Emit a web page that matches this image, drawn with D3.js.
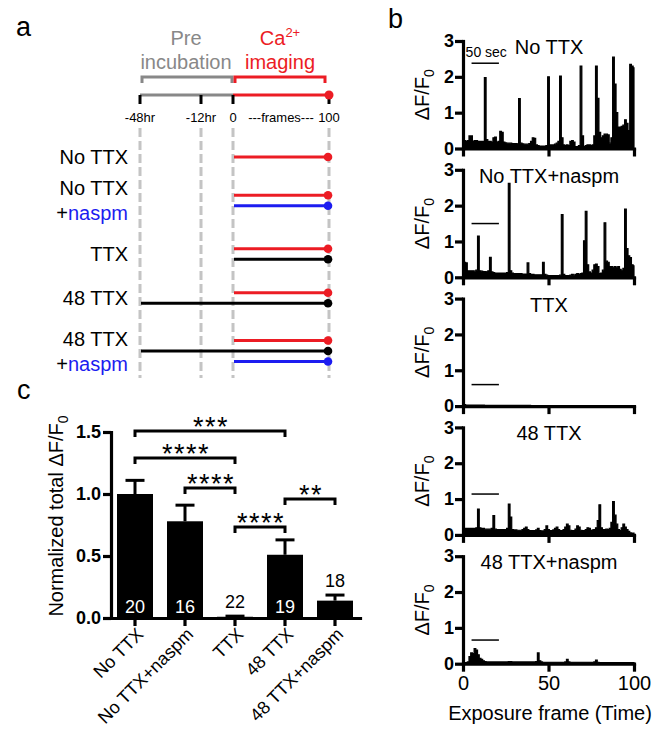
<!DOCTYPE html>
<html><head><meta charset="utf-8">
<script src="https://cdn.jsdelivr.net/npm/d3@7"></script>
<style>
body{margin:0;background:#fff}
svg{display:block}
text{font-family:"Liberation Sans",Arial,Helvetica,sans-serif}
</style>
</head><body>
<svg id="fig" width="669" height="743"></svg>
<script>
// ---------------- DATA ----------------
// Panel a: timeline
const timeTicks = [-48, -12, 0, 100];
const timeTickLabels = ["-48hr", "-12hr", "0", "100"];
const rowLabels = [["No TTX"], ["No TTX", "+naspm"], ["TTX"], ["48 TTX"], ["48 TTX", "+naspm"]];
const rowLines = [
  [["imaging", 0]],
  [["imaging", 0], ["naspm", 0]],
  [["imaging", 0], ["ttx", 0]],
  [["imaging", 0], ["ttx", -48]],
  [["imaging", 0], ["ttx", -48], ["naspm", 0]]
];

// Panel b: traces (ΔF/F0 per exposure frame 0..100)
const traceTitles = ["No TTX", "No TTX+naspm", "TTX", "48 TTX", "48 TTX+naspm"];
const traceNoTTX = [
 0.20,0.22,0.20,0.22,0.35,0.35,0.20,0.22,0.22,0.20,
 0.20,0.20,0.20,1.98,0.25,0.20,0.20,0.18,0.30,0.32,
 0.18,0.20,0.48,0.45,0.18,0.16,0.15,0.15,0.15,0.14,
 0.14,0.14,0.13,1.39,0.15,0.13,0.12,0.12,0.12,0.14,
 0.20,0.30,0.28,0.10,0.08,0.07,0.07,0.07,0.07,0.08,
 2.00,0.10,0.10,0.10,0.12,0.15,0.20,2.02,0.30,0.10,
 0.08,0.10,0.08,0.20,0.22,0.18,0.05,0.05,0.08,2.30,
 0.35,0.05,0.08,0.10,0.10,0.08,0.10,0.35,2.30,1.40,
 0.45,0.30,0.35,0.40,0.40,0.38,0.15,0.30,2.55,1.80,
 1.00,0.60,0.60,0.62,0.65,0.80,0.70,0.50,2.35,2.30,
 2.25];
const traceNoTTXNaspm = [
 0.42,0.42,0.40,0.18,0.18,0.18,0.18,0.17,0.20,1.15,
 0.18,0.17,0.16,0.16,0.15,0.18,0.56,0.15,0.13,0.12,
 0.12,0.12,0.12,0.12,0.12,0.12,0.13,2.62,0.18,0.12,
 0.10,0.10,0.10,0.10,0.10,0.09,0.09,0.09,0.40,0.10,
 0.08,0.08,0.07,0.07,0.07,0.07,0.07,0.42,0.08,0.06,
 0.05,0.05,0.05,0.05,0.05,0.05,0.05,0.06,1.75,0.08,
 0.05,0.05,0.05,0.06,0.08,0.06,0.08,0.10,0.08,0.10,
 0.12,1.02,1.84,0.35,0.15,0.12,0.20,0.35,0.37,0.30,
 0.10,0.12,0.20,1.52,0.45,0.42,0.30,0.30,0.28,0.30,
 0.28,0.30,0.22,0.18,0.25,1.90,0.80,0.60,0.55,0.35,
 0.32];
const traceTTX = [
 0.04,0.04,0.03,0.03,0.03,0.03,0.03,0.03,0.03,0.03,
 0.03,0.03,0.03,0.02,0.02,0.02,0.02,0.02,0.02,0.02,
 0.02,0.02,0.02,0.02,0.02,0.02,0.02,0.02,0.02,0.02,
 0.02,0.02,0.02,0.02,0.02,0.02,0.02,0.02,0.02,0.02,
 0.01,0.01,0.01,0.01,0.01,0.01,0.01,0.01,0.01,0.01,
 0.01,0.01,0.01,0.01,0.01,0.01,0.01,0.01,0.01,0.01,
 0.01,0.01,0.01,0.01,0.01,0.01,0.01,0.01,0.01,0.01,
 0.01,0.01,0.01,0.01,0.01,0.01,0.01,0.01,0.01,0.01,
 0.01,0.01,0.01,0.01,0.01,0.01,0.01,0.01,0.01,0.01,
 0.01,0.01,0.01,0.01,0.01,0.01,0.01,0.01,0.01,0.01,
 0.01];
const trace48TTX = [
 0.20,0.18,0.18,0.18,0.18,0.18,0.18,0.18,0.20,0.72,
 0.20,0.18,0.18,0.16,0.16,0.16,0.16,0.18,0.54,0.16,
 0.15,0.15,0.15,0.15,0.15,0.15,0.18,0.86,0.50,0.15,
 0.14,0.14,0.13,0.13,0.13,0.15,0.18,0.22,0.15,0.12,
 0.12,0.12,0.12,0.14,0.18,0.12,0.11,0.11,0.15,0.25,
 0.15,0.12,0.12,0.14,0.18,0.22,0.15,0.12,0.12,0.15,
 0.22,0.30,0.25,0.13,0.12,0.12,0.16,0.25,0.22,0.13,
 0.12,0.12,0.15,0.20,0.18,0.12,0.14,0.15,0.20,0.40,
 0.84,0.20,0.15,0.15,0.16,0.15,0.18,0.35,0.93,0.55,
 0.30,0.15,0.12,0.20,0.30,0.22,0.15,0.10,0.06,0.05,
 0.05];
const trace48TTXNaspm = [
 0.02,0.02,0.03,0.05,0.20,0.30,0.28,0.42,0.38,0.25,
 0.15,0.12,0.08,0.06,0.05,0.05,0.05,0.05,0.05,0.05,
 0.05,0.05,0.05,0.05,0.05,0.05,0.05,0.06,0.06,0.05,
 0.05,0.05,0.05,0.05,0.05,0.05,0.05,0.05,0.05,0.05,
 0.05,0.05,0.05,0.06,0.30,0.08,0.05,0.04,0.04,0.04,
 0.04,0.04,0.04,0.04,0.04,0.04,0.04,0.04,0.04,0.04,
 0.05,0.12,0.05,0.04,0.04,0.04,0.04,0.04,0.04,0.04,
 0.04,0.04,0.04,0.04,0.04,0.04,0.04,0.05,0.10,0.04,
 0.03,0.03,0.03,0.03,0.03,0.03,0.03,0.03,0.03,0.03,
 0.03,0.03,0.03,0.03,0.03,0.03,0.03,0.03,0.03,0.03,
 0.03];
const traces = [traceNoTTX, traceNoTTXNaspm, traceTTX, trace48TTX, trace48TTXNaspm];
const traceYTicks = [0, 1, 2, 3];
const traceXTicks = [0, 50, 100];
const scaleBarFrames = [5, 21];
const scaleBarLevels = [2.38, 1.5, 0.6, 1.14, 0.66];

// Panel c: bars
const barCategories = ["No TTX", "No TTX+naspm", "TTX", "48 TTX", "48 TTX+naspm"];
const barMeans = [1.00, 0.78, 0.01, 0.51, 0.14];
const barErrors = [0.11, 0.13, 0.005, 0.12, 0.045];
const barCounts = ["20", "16", "22", "19", "18"];
const barYTicks = [0, 0.5, 1.0, 1.5];
const sigFrom = [0, 0, 1, 2, 3];
const sigTo = [3, 2, 2, 3, 4];
const sigLevel = [1.508, 1.29, 1.048, 0.734, 0.96];
const sigText = ["***", "****", "****", "****", "**"];

// ---------------- DRAW ----------------
const svg = d3.select("#fig");
const RED = "#ec1c24", BLUE = "#1c1cf0", GRAY = "#888888", DASH = "#c4c4c4";

// panel letters
svg.append("text").attr("x", 16).attr("y", 36).attr("font-size", 27).text("a");
svg.append("text").attr("x", 388).attr("y", 28).attr("font-size", 27).text("b");
svg.append("text").attr("x", 17).attr("y", 399).attr("font-size", 27).text("c");

// ===== Panel a =====
const tl = d3.scaleLinear().domain(timeTicks).range([140, 201, 233, 329]);
const gA = svg.append("g");
gA.append("text").attr("x", 186).attr("y", 45).attr("text-anchor", "middle")
  .attr("font-size", 20).attr("fill", GRAY).text("Pre");
gA.append("text").attr("x", 186).attr("y", 69).attr("text-anchor", "middle")
  .attr("font-size", 20).attr("fill", GRAY).text("incubation");
const ca = gA.append("text").attr("x", 280).attr("y", 45).attr("text-anchor", "middle")
  .attr("font-size", 20).attr("fill", RED);
ca.append("tspan").text("Ca");
ca.append("tspan").attr("dy", -8).attr("font-size", 13).text("2+");
gA.append("text").attr("x", 280).attr("y", 69).attr("text-anchor", "middle")
  .attr("font-size", 20).attr("fill", RED).text("imaging");
gA.append("path").attr("d", `M${tl(-48)+2},83V77H${tl(0)-1}V83`)
  .attr("fill", "none").attr("stroke", GRAY).attr("stroke-width", 3);
gA.append("path").attr("d", `M${tl(0)+2},83V77H${tl(100)-4}V83`)
  .attr("fill", "none").attr("stroke", RED).attr("stroke-width", 3);
gA.selectAll("line.guide").data(timeTicks).join("line").attr("class", "guide")
  .attr("x1", d => tl(d)).attr("x2", d => tl(d)).attr("y1", 128).attr("y2", 378)
  .attr("stroke", DASH).attr("stroke-width", 3).attr("stroke-dasharray", "9,4");
gA.append("line").attr("x1", tl(-48)).attr("x2", tl(0)).attr("y1", 95).attr("y2", 95)
  .attr("stroke", GRAY).attr("stroke-width", 3);
gA.append("line").attr("x1", tl(0)).attr("x2", tl(100)).attr("y1", 95).attr("y2", 95)
  .attr("stroke", RED).attr("stroke-width", 3);
gA.selectAll("line.tk").data(timeTicks).join("line").attr("class", "tk")
  .attr("x1", d => tl(d)).attr("x2", d => tl(d)).attr("y1", 95).attr("y2", 104)
  .attr("stroke", "#000").attr("stroke-width", 3);
gA.append("circle").attr("cx", tl(100)).attr("cy", 95).attr("r", 4.5).attr("fill", RED);
gA.selectAll("text.tkl").data(timeTicks).join("text").attr("class", "tkl")
  .attr("x", d => tl(d)).attr("y", 122).attr("text-anchor", "middle").attr("font-size", 13)
  .text((d, i) => timeTickLabels[i]);
gA.append("text").attr("x", tl(50)).attr("y", 122).attr("text-anchor", "middle")
  .attr("font-size", 13).text("---frames---");

const rowCenters = [157, 200.5, 254, 298, 351];
const lineColor = {imaging: RED, naspm: BLUE, ttx: "#000"};
rowLabels.forEach((lab, r) => {
  const c = rowCenters[r];
  lab.forEach((t, j) => {
    const ty = lab.length === 1 ? c : c + (j === 0 ? -12.5 : 12.5);
    const tx = gA.append("text").attr("x", 128).attr("y", ty).attr("dy", "0.35em")
      .attr("text-anchor", "end").attr("font-size", 20);
    if (t.startsWith("+")) {
      tx.append("tspan").text("+");
      tx.append("tspan").attr("fill", BLUE).text(t.slice(1));
    } else tx.text(t);
  });
  const ls = rowLines[r];
  ls.forEach((l, j) => {
    const ly = c + (j - (ls.length - 1) / 2) * 10.5;
    gA.append("line").attr("x1", tl(l[1]) + 1).attr("x2", tl(100) - 1)
      .attr("y1", ly).attr("y2", ly).attr("stroke", lineColor[l[0]]).attr("stroke-width", 3);
    gA.append("circle").attr("cx", tl(100) - 1).attr("cy", ly).attr("r", 4.3)
      .attr("fill", lineColor[l[0]]);
  });
});

// ===== Panel b =====
const xb = d3.scaleLinear().domain([0, 100]).range([463, 634]);
traces.forEach((tr, k) => {
  const top = 41 + k * 128.8, bot = top + 107.5;
  const yb = d3.scaleLinear().domain([0, 3]).range([bot, top]);
  const g = svg.append("g");
  const area = d3.area().x((d, i) => xb(i)).y0(yb(0)).y1(d => yb(d)).curve(d3.curveStep);
  g.append("path").datum(tr).attr("d", area).attr("fill", "#000")
    .attr("stroke", "#000").attr("stroke-width", 1.2).attr("stroke-linejoin", "miter");
  const ya = g.append("g").attr("transform", `translate(${xb(0)},0)`)
    .call(d3.axisLeft(yb).tickValues(traceYTicks).tickFormat(d3.format("d")).tickSize(8).tickSizeOuter(0));
  const xa = g.append("g").attr("transform", `translate(0,${yb(0)})`)
    .call(d3.axisBottom(xb).tickValues(traceXTicks).tickSize(8).tickSizeOuter(0));
  [ya, xa].forEach(a => {
    a.select(".domain").attr("stroke-width", 3.2).attr("stroke-linecap", "square");
    a.selectAll(".tick line").attr("stroke-width", 3.2);
  });
  ya.selectAll(".tick text").attr("font-size", 18).attr("font-weight", "bold")
    .attr("font-family", '"Liberation Sans",Arial,sans-serif').attr("x", -9);
  xa.selectAll(".tick text").attr("font-size", 20)
    .attr("font-family", '"Liberation Sans",Arial,sans-serif').attr("y", 12)
    .style("display", k === traces.length - 1 ? null : "none");
  const yl = g.append("text").attr("transform", `translate(429,${(top + bot) / 2}) rotate(-90)`)
    .attr("text-anchor", "middle").attr("font-size", 20);
  yl.append("tspan").text("ΔF/F");
  yl.append("tspan").attr("font-size", 14).attr("dy", 5).text("0");
  g.append("text").attr("x", 549).attr("y", top + 13).attr("text-anchor", "middle")
    .attr("font-size", 20).text(traceTitles[k]);
  g.append("line").attr("x1", xb(scaleBarFrames[0])).attr("x2", xb(scaleBarFrames[1]))
    .attr("y1", yb(scaleBarLevels[k])).attr("y2", yb(scaleBarLevels[k]))
    .attr("stroke", "#000").attr("stroke-width", 1.5);
  if (k === 0) {
    g.append("text").attr("x", (xb(scaleBarFrames[0]) + xb(scaleBarFrames[1])) / 2 + 1)
      .attr("y", yb(scaleBarLevels[k]) - 6).attr("text-anchor", "middle")
      .attr("font-size", 14).text("50 sec");
  }
});
svg.append("text").attr("x", 550).attr("y", 720).attr("text-anchor", "middle")
  .attr("font-size", 20).text("Exposure frame (Time)");

// ===== Panel c =====
const xc = d3.scaleBand().domain(barCategories).range([110, 360]).paddingInner(0.28).paddingOuter(0.14);
const yc = d3.scaleLinear().domain([0, 1.5]).range([618, 432]);
const gC = svg.append("g");
gC.selectAll("rect.bar").data(barMeans).join("rect").attr("class", "bar")
  .attr("x", (d, i) => xc(barCategories[i])).attr("width", xc.bandwidth())
  .attr("y", d => yc(d)).attr("height", d => yc(0) - yc(d)).attr("fill", "#000");
barMeans.forEach((m, i) => {
  const cx = xc(barCategories[i]) + xc.bandwidth() / 2;
  gC.append("line").attr("x1", cx).attr("x2", cx).attr("y1", yc(m)).attr("y2", yc(m + barErrors[i]))
    .attr("stroke", "#000").attr("stroke-width", 3);
  gC.append("line").attr("x1", cx - 9.5).attr("x2", cx + 9.5)
    .attr("y1", yc(m + barErrors[i])).attr("y2", yc(m + barErrors[i]))
    .attr("stroke", "#000").attr("stroke-width", 3);
  const inside = m > 0.3;
  gC.append("text").attr("x", cx).attr("y", inside ? 613 : yc(m + barErrors[i]) - 8)
    .attr("text-anchor", "middle").attr("font-size", 18)
    .attr("fill", inside ? "#fff" : "#000").text(barCounts[i]);
});
const yca = gC.append("g").attr("transform", "translate(111,0)")
  .call(d3.axisLeft(yc).tickValues(barYTicks).tickFormat(d3.format(".1f")).tickSize(8).tickSizeOuter(0));
const xca = gC.append("g").attr("transform", `translate(0,${yc(0)})`)
  .call(d3.axisBottom(xc).tickSize(8).tickSizeOuter(0));
[yca, xca].forEach(a => {
  a.select(".domain").attr("stroke-width", 3.2).attr("stroke-linecap", "square");
  a.selectAll(".tick line").attr("stroke-width", 3.2);
});
yca.selectAll(".tick text").attr("font-size", 18).attr("font-weight", "bold")
  .attr("font-family", '"Liberation Sans",Arial,sans-serif').attr("x", -10);
xca.selectAll(".tick text").attr("font-size", 18)
  .attr("font-family", '"Liberation Sans",Arial,sans-serif')
  .attr("text-anchor", "end").attr("transform", "translate(5,13) rotate(-45)")
  .attr("x", 0).attr("y", 0).attr("dy", "0.35em");
const yct = gC.append("text").attr("transform", "translate(63,516) rotate(-90)")
  .attr("text-anchor", "middle").attr("font-size", 20);
yct.append("tspan").text("Normalized total ΔF/F");
yct.append("tspan").attr("font-size", 14).attr("dy", 5).text("0");
sigText.forEach((s, i) => {
  const x1 = xc(barCategories[sigFrom[i]]) + xc.bandwidth() / 2;
  const x2 = xc(barCategories[sigTo[i]]) + xc.bandwidth() / 2;
  const y = yc(sigLevel[i]);
  gC.append("path").attr("d", `M${x1},${y + 6}V${y}H${x2}V${y + 6}`)
    .attr("fill", "none").attr("stroke", "#000").attr("stroke-width", 3);
  gC.append("text").attr("x", (x1 + x2) / 2 + 1).attr("y", y + 5).attr("text-anchor", "middle")
    .attr("font-size", 27).attr("letter-spacing", 1.5).text(s);
});
</script>
</body></html>
